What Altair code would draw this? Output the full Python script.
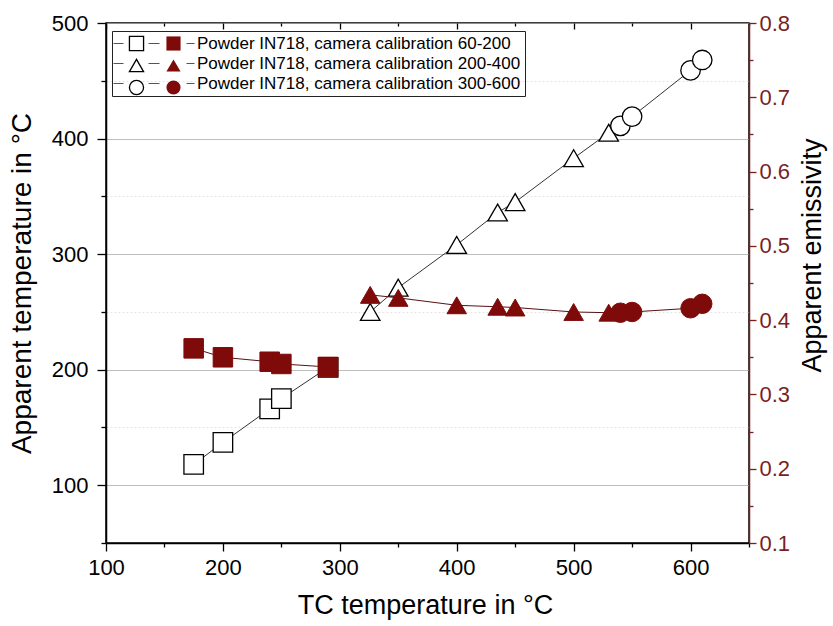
import altair as alt
import pandas as pd

FONT = "Liberation Sans"
DRED = "#7f0a0a"
AXRED = "#7a1f1f"

series_names = [
    "Powder IN718, camera calibration 60-200",
    "Powder IN718, camera calibration 200-400",
    "Powder IN718, camera calibration 300-600",
]
shapes = ["square", "triangle-up", "circle"]

# series 1: calibration 60-200
tc_60_200 = [175, 200, 240, 250, 290]
app_60_200 = [118, 137, 166, 175, 202]
emis_60_200 = [0.362, 0.350, 0.344, 0.341, 0.337]

# series 2: calibration 200-400
tc_200_400 = [326, 350, 400, 435, 450, 500, 530]
app_200_400 = [250, 271, 308, 336, 345, 383, 405]
emis_200_400 = [0.434, 0.430, 0.420, 0.418, 0.417, 0.411, 0.410]

# series 3: calibration 300-600
tc_300_600 = [540, 550, 600, 610]
app_300_600 = [411, 419, 459, 468]
emis_300_600 = [0.410, 0.411, 0.416, 0.422]

x_ticks = [100, 150, 200, 250, 300, 350, 400, 450, 500, 550, 600, 650]
y_ticks = [50, 100, 150, 200, 250, 300, 350, 400, 450, 500]
e_ticks = [0.1, 0.15, 0.2, 0.25, 0.3, 0.35, 0.4, 0.45, 0.5, 0.55, 0.6, 0.65, 0.7, 0.75, 0.8]

# distinct keys so that Vega-Lite keeps the three legends apart
open_keys = ["open " + s for s in series_names]
filled_keys = ["filled " + s for s in series_names]

rows = []
for i, (tcs, apps, ems) in enumerate([
    (tc_60_200, app_60_200, emis_60_200),
    (tc_200_400, app_200_400, emis_200_400),
    (tc_300_600, app_300_600, emis_300_600),
]):
    for t, a, e in zip(tcs, apps, ems):
        rows.append({"series": series_names[i], "okey": open_keys[i], "fkey": filled_keys[i],
                     "tc": t, "app": a, "emis": e})
df = pd.DataFrame(rows)

xscale = alt.Scale(domain=[100, 650], nice=False, zero=False)
yscale = alt.Scale(domain=[50, 500], nice=False, zero=False)
escale = alt.Scale(domain=[0.1, 0.8], nice=False, zero=False)

minor_x = "datum.value % 100 != 0"
minor_e = "round(datum.value * 100) % 10 != 0"

x_axis = alt.Axis(
    orient="bottom", values=x_ticks, title="TC temperature in °C",
    labelExpr="(datum.value % 100 == 0 && datum.value <= 600) ? datum.label : ''",
    tickSize={"condition": {"test": minor_x, "value": 4}, "value": 8},
    tickColor="black", tickWidth=1.3, domainColor="black", domainWidth=1.5,
    labelFont=FONT, labelFontSize=22, labelColor="black", labelPadding=6,
    labelFlush=False, labelOverlap=False,
    titleFont=FONT, titleFontSize=27, titleFontWeight="normal", titleColor="black",
    titleX=319, titleY=62, titleBaseline="middle", titleAlign="center",
    grid=False,
)

x_axis_top = alt.Axis(
    orient="top", values=x_ticks, labels=False, domain=False, title=None,
    offset=-6, tickSize=6, tickColor="black", tickWidth=1.3,
    tickDash={"condition": {"test": minor_x, "value": [0, 3, 3, 0]}, "value": [1, 0]},
    grid=False,
)

y_axis = alt.Axis(
    orient="left", values=y_ticks, title="Apparent temperature in °C",
    labelExpr="datum.value % 100 == 0 ? datum.label : ''",
    tickSize={"condition": {"test": minor_x, "value": 5}, "value": 9},
    tickColor="black", tickWidth=1.3, domainColor="black", domainWidth=1.5,
    labelFont=FONT, labelFontSize=22, labelColor="black", labelPadding=9,
    labelOverlap=False,
    titleFont=FONT, titleFontSize=28, titleFontWeight="normal", titleColor="black",
    titleX=-84, titleY=260, titleAngle=-90, titleAlign="center", titleBaseline="middle",
    grid=True,
    gridColor={"condition": {"test": minor_x, "value": "#e4e4e4"}, "value": "#a8a8a8"},
    gridDash={"condition": {"test": minor_x, "value": [2, 2]}, "value": [1, 0]},
    gridWidth=1,
)

e_axis = alt.Axis(
    orient="right", values=e_ticks, title="Apparent emissivity",
    labelExpr="round(datum.value * 100) % 10 == 0 ? format(datum.value, '.1f') : ''",
    tickSize={"condition": {"test": minor_e, "value": 4}, "value": 7},
    tickColor=AXRED, tickWidth=1.3, domainColor=AXRED, domainWidth=1.5,
    labelFont=FONT, labelFontSize=22, labelColor=AXRED, labelPadding=3,
    labelOverlap=False,
    titleFont=FONT, titleFontSize=27, titleFontWeight="normal", titleColor="black",
    titleX=63, titleY=232, titleAngle=-90, titleAlign="center", titleBaseline="middle",
    grid=False,
)

# box + labels + connecting dashes
box_legend = alt.Legend(
    orient="none", legendX=6, legendY=8, title=None, padding=4,
    strokeColor="#222", zindex=1,
    symbolType="M-11,0H-1M24,0H35M62,0H70", symbolSize=4,
    symbolStrokeColor="#555", symbolStrokeWidth=1,
    labelOffset=64, labelFont=FONT, labelFontSize=17, labelColor="black",
    rowPadding=2, labelLimit=600,
)
open_legend = alt.Legend(
    orient="none", legendX=22, legendY=12, title=None, padding=0, zindex=2,
    symbolSize=200, symbolStrokeWidth=1.3,
    labelExpr="''", labelFontSize=17, rowPadding=2,
)
filled_legend = alt.Legend(
    orient="none", legendX=59, legendY=12, title=None, padding=0, zindex=3,
    symbolSize=200, symbolFillColor=DRED, symbolStrokeColor=DRED,
    labelExpr="''", labelFontSize=17, rowPadding=2,
)

base = alt.Chart(df)

open_lines = base.mark_line(color="#333").encode(
    x=alt.X("tc:Q", scale=xscale, axis=x_axis),
    y=alt.Y("app:Q", scale=yscale, axis=y_axis),
    strokeWidth=alt.StrokeWidth("series:N", scale=alt.Scale(domain=series_names, range=[1, 1, 1]), legend=box_legend),
    order="tc:Q",
)
open_points = base.mark_point(filled=False, color="black", fill="white", stroke="black",
                              strokeWidth=1.3, size=380, opacity=1, fillOpacity=1).encode(
    x=alt.X("tc:Q", scale=xscale, axis=x_axis),
    y=alt.Y("app:Q", scale=yscale, axis=y_axis),
    shape=alt.Shape("okey:N", scale=alt.Scale(domain=open_keys, range=shapes), legend=open_legend),
)
left = alt.layer(open_lines, open_points)

filled_lines = base.mark_line(color="#5a1010", strokeWidth=1).encode(
    x=alt.X("tc:Q", scale=xscale, axis=x_axis_top),
    y=alt.Y("emis:Q", scale=escale, axis=e_axis),
    detail="series:N", order="tc:Q",
)
filled_points = base.mark_point(filled=True, fill=DRED, stroke=DRED, strokeWidth=1, size=380, opacity=1).encode(
    x=alt.X("tc:Q", scale=xscale, axis=x_axis_top),
    y=alt.Y("emis:Q", scale=escale, axis=e_axis),
    shape=alt.Shape("fkey:N", scale=alt.Scale(domain=filled_keys, range=shapes), legend=filled_legend),
)
right = alt.layer(filled_lines, filled_points)

chart = alt.layer(left, right).resolve_scale(
    y="independent", shape="independent"
).resolve_axis(x="independent").resolve_legend(shape="independent").properties(
    width=643, height=520,
    autosize=alt.AutoSizeParams(type="none"),
    padding={"left": 106, "top": 23, "right": 84, "bottom": 83},
    background="white",
).configure_view(stroke="black", strokeWidth=1.5)

chart.save("out.html", embed_options={"renderer": "svg", "actions": False})
